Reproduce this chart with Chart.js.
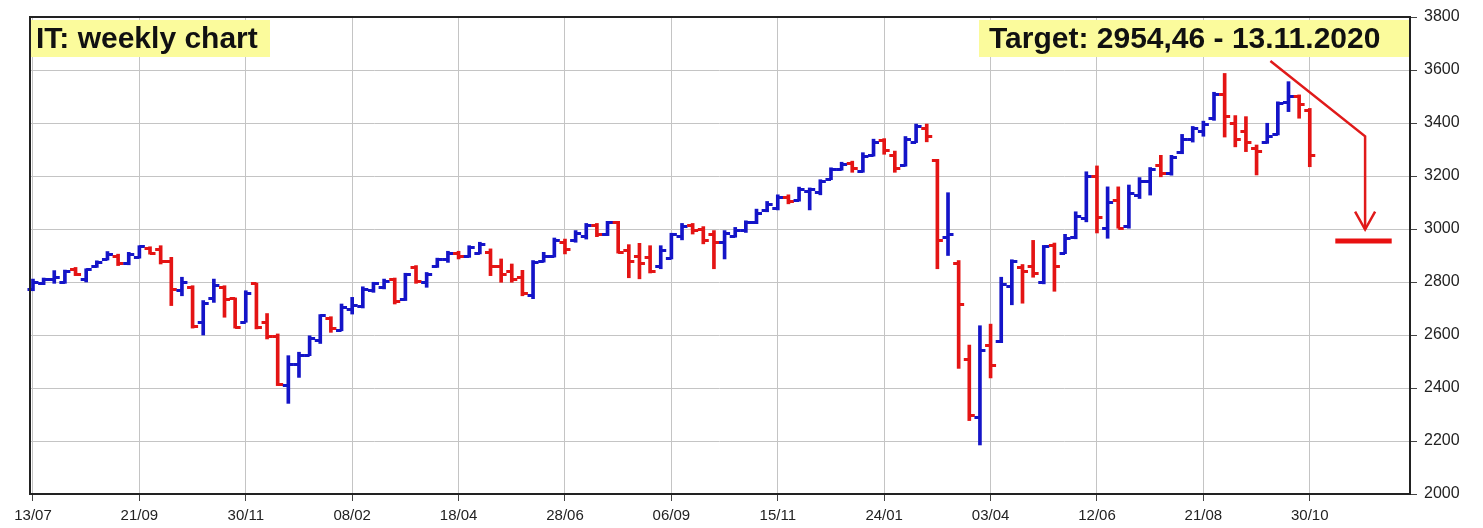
<!doctype html>
<html>
<head>
	<title>IT: weekly chart</title>
	<script src="https://cdn.jsdelivr.net/npm/chart.js@4.4.1/dist/chart.umd.min.js"></script>
	<style>
		html, body { margin: 0; padding: 0; background: #fff; }
		#wrap { width: 1483px; height: 528px; }
	</style>
</head>
<body>
	<div id="wrap"><canvas id="canvas" width="1483" height="528"></canvas></div>
	<script>
		// weekly bars, week 0 = 13/07/2018
		var tickWeeks = [0, 10, 20, 30, 40, 50, 60, 70, 80, 90, 100, 110, 120];
		var tickLabels = ['13/07', '21/09', '30/11', '08/02', '18/04', '28/06', '06/09', '15/11', '24/01', '03/04', '12/06', '21/08', '30/10'];

		var opens = [
			2775, 2795, 2810, 2800, 2850, 2810, 2860, 2885, 2900, 2870,
			2895, 2930, 2925, 2880, 2770, 2780, 2650, 2740, 2780, 2740,
			2650, 2795, 2650, 2595, 2410, 2490, 2525, 2580, 2665, 2620,
			2700, 2710, 2770, 2780, 2810, 2735, 2855, 2800, 2860, 2885,
			2910, 2900, 2910, 2915, 2860, 2840, 2820, 2750, 2880, 2900,
			2950, 2960, 2975, 3015, 2980, 3025, 2920, 2900, 2895, 2860,
			2890, 2975, 3015, 3000, 2980, 2950, 2975, 2995, 3025, 3070,
			3080, 3120, 3110, 3145, 3140, 3190, 3225, 3250, 3220, 3280,
			3335, 3280, 3240, 3330, 3380, 3260, 2970, 2870, 2508, 2289,
			2562, 2578, 2786, 2855, 2860, 2800, 2940, 2910, 2970, 3040,
			3200, 3003, 3110, 3010, 3130, 3180, 3240, 3210, 3290, 3340,
			3370, 3420, 3510, 3400, 3370, 3305, 3330, 3360, 3480, 3500,
			3450
		];
		var highs = [
			2811, 2815, 2843, 2845, 2855, 2850, 2880, 2915, 2905, 2912,
			2937, 2933, 2937, 2893, 2818, 2786, 2730, 2811, 2786, 2740,
			2767, 2796, 2681, 2604, 2522, 2535, 2597, 2677, 2669, 2717,
			2742, 2782, 2799, 2811, 2815, 2833, 2862, 2836, 2890, 2916,
			2916, 2937, 2950, 2925, 2887, 2868, 2844, 2881, 2912, 2966,
			2962, 2994, 3021, 3021, 3029, 3029, 2941, 2946, 2937, 2937,
			2984, 3021, 3021, 3009, 2994, 2994, 3006, 3031, 3075, 3104,
			3129, 3129, 3158, 3155, 3186, 3231, 3252, 3256, 3288, 3339,
			3341, 3294, 3349, 3396, 3396, 3263, 3137, 2881, 2562, 2635,
			2641, 2818, 2884, 2866, 2957, 2938, 2947, 2980, 3065, 3216,
			3238, 3159, 3159, 3166, 3194, 3232, 3278, 3278, 3357, 3387,
			3407, 3516, 3587, 3428, 3424, 3317, 3399, 3480, 3556, 3506,
			3455
		];
		var lows = [
			2767, 2790, 2795, 2795, 2824, 2800, 2855, 2883, 2862, 2865,
			2890, 2905, 2868, 2711, 2748, 2626, 2600, 2723, 2667, 2626,
			2648, 2623, 2585, 2409, 2342, 2440, 2522, 2568, 2610, 2616,
			2679, 2702, 2761, 2774, 2717, 2730, 2795, 2780, 2855, 2874,
			2887, 2893, 2906, 2824, 2799, 2799, 2748, 2737, 2875, 2894,
			2906, 2950, 2962, 2971, 2975, 2909, 2816, 2812, 2834, 2850,
			2887, 2959, 2981, 2944, 2850, 2887, 2969, 2987, 3020, 3065,
			3072, 3095, 3105, 3072, 3129, 3186, 3222, 3214, 3214, 3275,
			3282, 3214, 3237, 3326, 3329, 2850, 2900, 2474, 2277, 2185,
			2438, 2571, 2714, 2720, 2818, 2793, 2765, 2907, 2963, 3027,
			2985, 2965, 3003, 3003, 3115, 3128, 3197, 3203, 3284, 3328,
			3350, 3410, 3347, 3310, 3292, 3204, 3323, 3355, 3443, 3418,
			3235
		];
		var closes = [
			2800, 2810, 2820, 2840, 2830, 2848, 2875, 2905, 2870, 2905,
			2935, 2910, 2880, 2774, 2800, 2635, 2720, 2790, 2735, 2630,
			2760, 2630, 2595, 2415, 2490, 2525, 2590, 2675, 2625, 2705,
			2712, 2775, 2795, 2805, 2730, 2830, 2805, 2830, 2888, 2910,
			2900, 2932, 2945, 2860, 2830, 2810, 2760, 2875, 2900, 2960,
			2925, 2985, 3015, 2980, 3025, 2915, 2880, 2870, 2840, 2920,
			2980, 3010, 2995, 2960, 2950, 2985, 2995, 3025, 3062, 3095,
			3120, 3105, 3150, 3150, 3180, 3225, 3245, 3230, 3275, 3330,
			3300, 3230, 3340, 3390, 3350, 2957, 2980, 2717, 2297, 2543,
			2487, 2793, 2879, 2840, 2835, 2935, 2862, 2965, 3050, 3200,
			3045, 3103, 3005, 3134, 3180, 3225, 3210, 3270, 3340, 3380,
			3395, 3510, 3428, 3341, 3327, 3295, 3350, 3475, 3500, 3470,
			3279
		];

		var weeks = opens.map(function(v, i) { return i; });

		var targetValue = 2954.46;
		var targetFrom = 122.4, targetTo = 127.7;
		var arrowPath = [[116.3, 3634], [125.2, 3350], [125.2, 2998]];

		var upColor = '#1414c8';
		var downColor = '#e41414';
		var barColors = closes.map(function(c, i) { return c >= opens[i] ? upColor : downColor; });

		var ohlcPlugin = {
			id: 'ohlcPlugin',
			afterDatasetsDraw: function(chart) {
				var ctx = chart.ctx, x = chart.scales.x, y = chart.scales.y;
				var area = chart.chartArea;
				ctx.save();
				// open / close ticks
				ctx.lineWidth = 3;
				weeks.forEach(function(w, i) {
					var px = x.getPixelForValue(w);
					ctx.strokeStyle = barColors[i];
					ctx.beginPath();
					var yo = Math.round(y.getPixelForValue(opens[i])) + 0.5;
					var yc = Math.round(y.getPixelForValue(closes[i])) + 0.5;
					ctx.moveTo(px - 5.5, yo);
					ctx.lineTo(px, yo);
					ctx.moveTo(px, yc);
					ctx.lineTo(px + 5.5, yc);
					ctx.stroke();
				});

				// target arrow
				ctx.strokeStyle = '#e01a1a';
				ctx.lineWidth = 2.5;
				ctx.beginPath();
				arrowPath.forEach(function(p, k) {
					var px = x.getPixelForValue(p[0]), py = y.getPixelForValue(p[1]);
					if (k === 0) ctx.moveTo(px, py); else ctx.lineTo(px, py);
				});
				ctx.stroke();
				var tip = arrowPath[arrowPath.length - 1];
				var tx = x.getPixelForValue(tip[0]), ty = y.getPixelForValue(tip[1]);
				ctx.beginPath();
				ctx.moveTo(tx - 10, ty - 18);
				ctx.lineTo(tx, ty);
				ctx.lineTo(tx + 10, ty - 18);
				ctx.stroke();

				// target level
				ctx.lineWidth = 5;
				ctx.strokeStyle = '#e81010';
				var yt = y.getPixelForValue(targetValue);
				ctx.beginPath();
				ctx.moveTo(x.getPixelForValue(targetFrom), yt);
				ctx.lineTo(x.getPixelForValue(targetTo), yt);
				ctx.stroke();

				// labels in yellow boxes
				ctx.font = 'bold 30px "Liberation Sans", Arial, sans-serif';
				ctx.textBaseline = 'middle';
				ctx.textAlign = 'left';
				ctx.fillStyle = '#fbfb9c';
				ctx.fillRect(area.left, area.top + 3, 240, 37);
				ctx.fillRect(979, area.top + 3, area.right - 979, 37);
				ctx.fillStyle = '#111';
				ctx.fillText('IT: weekly chart', area.left + 6, area.top + 23);
				ctx.fillText('Target: 2954,46 - 13.11.2020', 989, area.top + 23);

				// frame
				ctx.strokeStyle = '#222';
				ctx.lineWidth = 2;
				ctx.strokeRect(area.left, area.top, area.right - area.left, area.bottom - area.top);
				ctx.restore();
			}
		};

		window.onload = function() {
			var ctx = document.getElementById('canvas').getContext('2d');
			window.myChart = new Chart(ctx, {
				type: 'bar',
				data: {
					datasets: [{
						label: 'IT',
						data: weeks.map(function(w, i) { return { x: w, y: [lows[i], highs[i]] }; }),
						backgroundColor: barColors,
						borderWidth: 0,
						barThickness: 3,
						grouped: false
					}]
				},
				options: {
					responsive: false,
					animation: false,
					events: [],
					layout: { padding: { left: 30, top: 17, right: 0, bottom: 0 } },
					plugins: {
						legend: { display: false },
						tooltip: { enabled: false },
						title: { display: false }
					},
					scales: {
						x: {
							type: 'linear',
							offset: false,
							min: -0.28,
							max: 129.42,
							afterBuildTicks: function(scale) {
								scale.ticks = tickWeeks.map(function(v) { return { value: v }; });
							},
							afterFit: function(scale) { scale.height = 34; },
							ticks: {
								autoSkip: false,
								maxRotation: 0,
								padding: 6,
								color: '#222',
								font: { family: '"Liberation Sans", Arial, sans-serif', size: 15 },
								callback: function(v) {
									var k = tickWeeks.indexOf(v);
									return k >= 0 ? tickLabels[k] : '';
								}
							},
							grid: { offset: false, color: '#c4c4c4', lineWidth: 1, tickLength: 7, tickColor: '#444' },
							border: { display: true, color: '#222', width: 2 }
						},
						y: {
							position: 'right',
							min: 2000,
							max: 3800,
							afterFit: function(scale) { scale.width = 73; },
							ticks: {
								stepSize: 200,
								padding: 7,
								color: '#222',
								font: { family: '"Liberation Sans", Arial, sans-serif', size: 16 },
								callback: function(v) { return String(v); }
							},
							grid: { color: '#c4c4c4', lineWidth: 1, tickLength: 7, tickColor: '#444' },
							border: { display: true, color: '#222', width: 2 }
						}
					}
				},
				plugins: [ohlcPlugin]
			});
		};
	</script>
</body>
</html>
